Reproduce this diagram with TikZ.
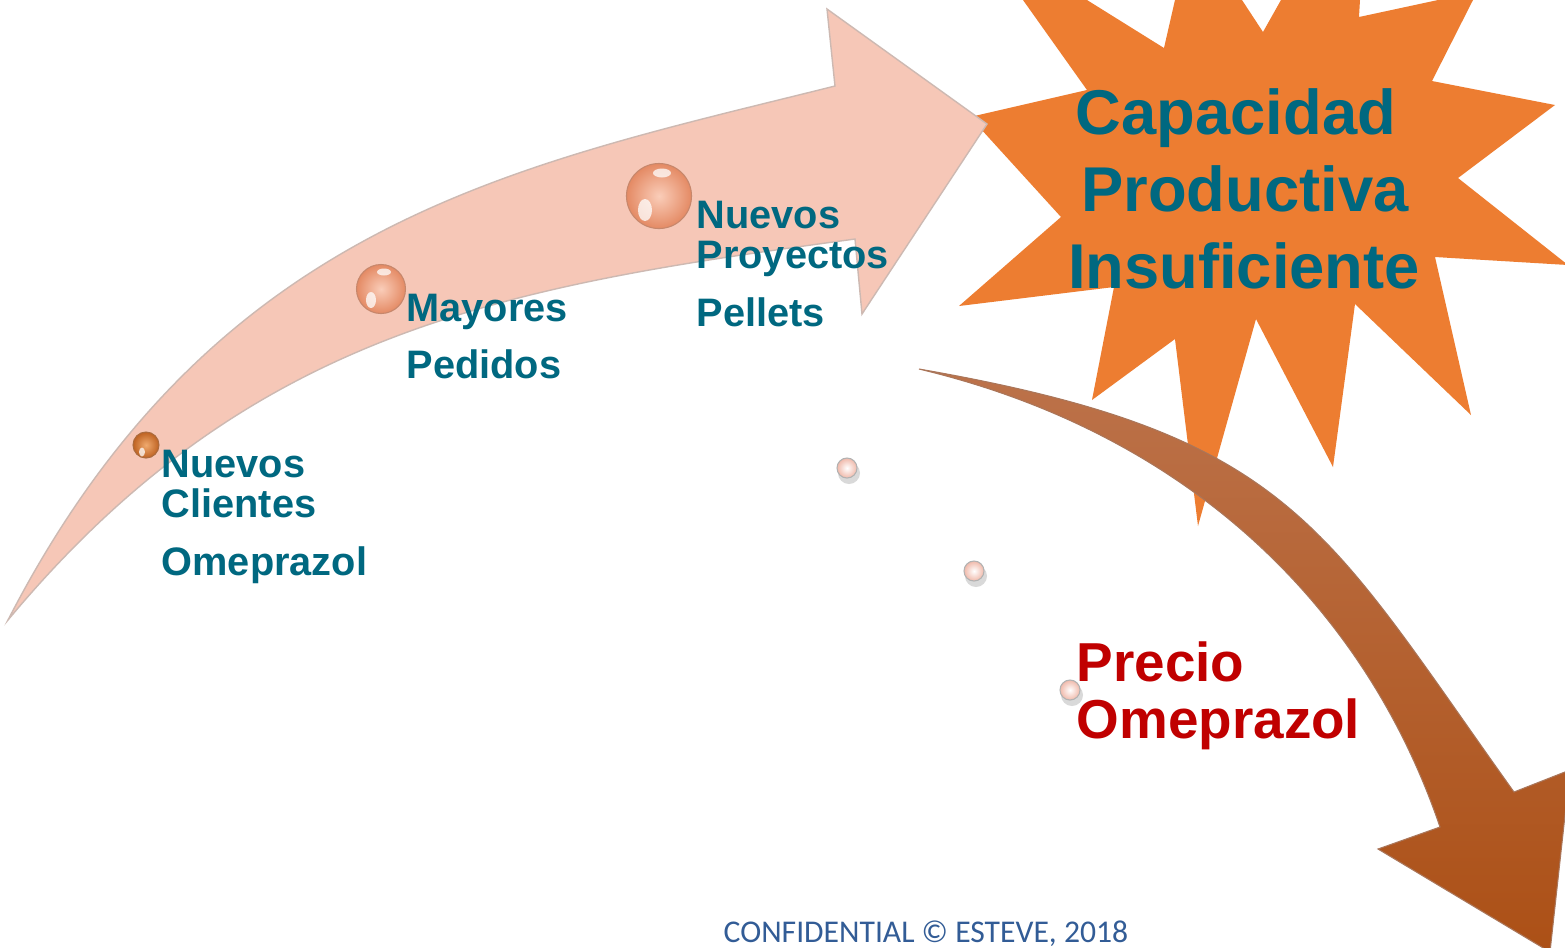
\documentclass[tikz,border=0pt]{standalone}
\usepackage{fontspec}
\setmainfont{Liberation Sans}
\newfontfamily\footfont{Carlito}
\definecolor{pinkA}{RGB}{246,199,183}
\definecolor{pinkEdge}{RGB}{205,185,178}
\definecolor{starOr}{RGB}{237,125,49}
\definecolor{tealC}{RGB}{0,104,128}
\definecolor{redC}{RGB}{192,0,0}
\definecolor{footC}{RGB}{50,92,150}
\definecolor{brownTop}{RGB}{188,114,74}
\definecolor{brownBot}{RGB}{172,80,22}
\definecolor{bubA}{RGB}{228,138,100}
\definecolor{bubAin}{RGB}{250,205,185}
\definecolor{bubS}{RGB}{190,98,34}
\definecolor{bubSin}{RGB}{240,170,110}
\definecolor{bubT}{RGB}{240,185,170}
\begin{document}
\begin{tikzpicture}[x=0.01cm,y=-0.01cm,
  tealtext/.style={text=tealC,font=\fontsize{11.3}{13}\selectfont\bfseries,anchor=base west,inner sep=0pt},
  startext/.style={text=tealC,font=\fontsize{18}{20}\selectfont\bfseries,anchor=base,inner sep=0pt},
  redtext/.style={text=redC,font=\fontsize{15.6}{17}\selectfont\bfseries,anchor=base west,inner sep=0pt},
  foottext/.style={text=footC,font=\footfont\fontsize{9}{10}\selectfont,anchor=base,inner sep=0pt},
  pinkarrow/.style={fill=pinkA,draw=pinkEdge,line width=0.4pt},
  brownarrow/.style={top color=brownTop,bottom color=brownBot,draw=brownTop!70!gray,line width=0.3pt},
  bigbub/.style={inner color=bubAin,outer color=bubA,draw=bubA!70!gray,line width=0.3pt},
  darkbub/.style={inner color=bubSin,outer color=bubS,draw=bubS!70!gray,line width=0.3pt},
  tinybub/.style={inner color=white,outer color=bubT,draw=gray!60,line width=0.3pt},
  glint/.style={fill=white,opacity=0.75}
]
\useasboundingbox (0,0) rectangle (1565,947);
\clip (0,0) rectangle (1565,947);
\fill[white] (0,0) rectangle (1565,947);

% starburst
\fill[starOr] (970,117) -- (1087,90) -- (1023,0) -- (1087,0) -- (1164,48) -- (1175,0)
  -- (1242,0) -- (1263,32) -- (1281,0) -- (1360,0) -- (1359,17) -- (1438,0) -- (1473,0)
  -- (1432,81) -- (1555,105) -- (1458,178) -- (1568,265) -- (1435,257) -- (1471,415)
  -- (1355,304) -- (1333,467) -- (1256,319) -- (1198,526) -- (1175,339) -- (1092,400)
  -- (1114,287) -- (959,306) -- (1061,217) -- cycle;

% pink rising arrow
\path[pinkarrow] (8,620) .. controls (214,220) and (515,166) .. (835,86)
  -- (827,9) -- (987,124) -- (862,314) -- (855,239)
  .. controls (508,286) and (251,328) .. (8,620) -- cycle;

% brown falling arrow
\path[brownarrow] (919,369) .. controls (1293,434) and (1323,525) .. (1514,792)
  -- (1570,770) -- (1550,952) -- (1378,849) -- (1440,827)
  .. controls (1366,609) and (1191,434) .. (919,369) -- cycle;

% bubbles on the pink arrow
\shade[darkbub] (146,445) circle[radius=0.13cm];
\fill[glint] (142,452) ellipse[x radius=0.03cm,y radius=0.045cm];
\shade[bigbub] (381,289) circle[radius=0.245cm];
\fill[glint] (371,300) ellipse[x radius=0.05cm,y radius=0.08cm];
\fill[glint] (384,272) ellipse[x radius=0.07cm,y radius=0.035cm];
\shade[bigbub] (659,196) circle[radius=0.325cm];
\fill[glint] (645,210) ellipse[x radius=0.07cm,y radius=0.11cm];
\fill[glint] (662,173) ellipse[x radius=0.09cm,y radius=0.045cm];

% small bubbles
\fill[black,opacity=0.15] (849,473) circle[radius=0.11cm];
\shade[tinybub] (847,468) circle[radius=0.1cm];
\fill[black,opacity=0.15] (976,576) circle[radius=0.11cm];
\shade[tinybub] (974,571) circle[radius=0.1cm];
\fill[black,opacity=0.15] (1072,695) circle[radius=0.11cm];
\shade[tinybub] (1070,690) circle[radius=0.1cm];

% texts
\node[tealtext] (nc1) at (161,477) {Nuevos};
\node[tealtext] (nc2) at (161,517) {Clientes};
\node[tealtext] (nc3) at (161,575) {Omeprazol};
\node[tealtext] (mp1) at (406,321) {Mayores};
\node[tealtext] (mp2) at (406,378) {Pedidos};
\node[tealtext] (np1) at (696,228) {Nuevos};
\node[tealtext] (np2) at (696,268) {Proyectos};
\node[tealtext] (np3) at (696,326) {Pellets};

\node[startext] (s1) at (1236,134) {Capacidad};
\node[startext] (s2) at (1245,211) {Productiva};
\node[startext] (s3) at (1244,288) {Insuficiente};

\node[redtext] (p1) at (1076,681) {Precio};
\node[redtext] (p2) at (1076,738) {Omeprazol};

\node[foottext] (ft) at (926,942) {CONFIDENTIAL © ESTEVE, 2018};
\end{tikzpicture}
\end{document}
